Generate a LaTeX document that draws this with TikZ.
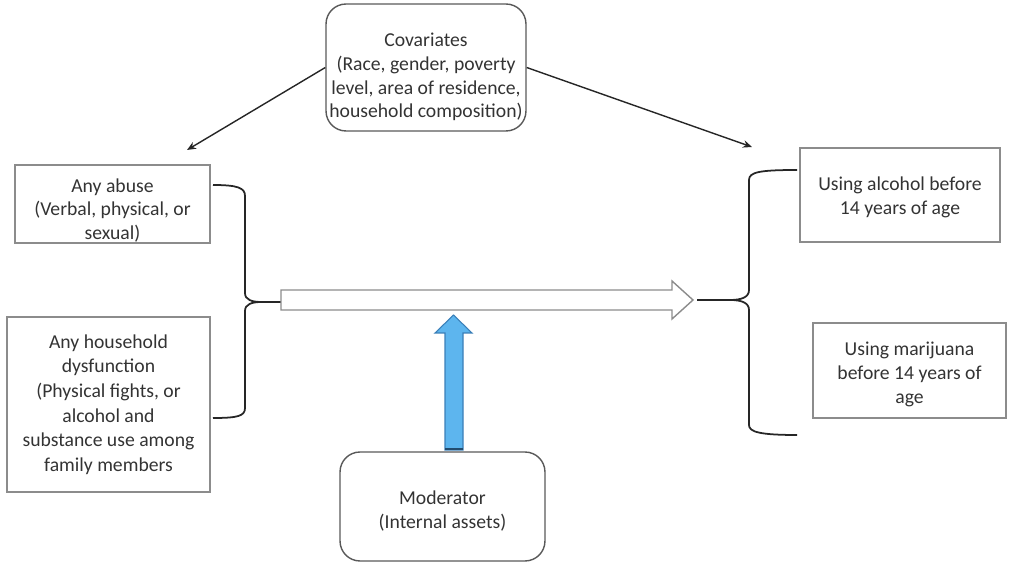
\documentclass[tikz,border=0pt]{standalone}
\usepackage{fontspec}
\setmainfont{Carlito}
\usetikzlibrary{arrows.meta}
\definecolor{boxline}{HTML}{8C8C8C}
\definecolor{roundline}{HTML}{595959}
\definecolor{textgray}{HTML}{333333}
\definecolor{linkline}{HTML}{262626}
\definecolor{modblue}{HTML}{5DB5EE}
\definecolor{modblueline}{HTML}{3A7FB8}
\newcommand{\dropby}[1]{\rule{0pt}{#1}}
\tikzset{
  box/.style={draw=boxline, line width=0.8pt, align=center, text=textgray,
              font=\fontsize{11.2}{13.5}\selectfont, inner sep=0pt},
  roundbox/.style={box, draw=roundline, rounded corners=0.4cm},
  link/.style={draw=linkline, line width=0.8pt, -{Stealth[length=1.8mm,width=1.5mm]}},
  bracket/.style={draw=linkline, line width=1pt},
}

\begin{document}
\begin{tikzpicture}[x=0.02cm, y=-0.02cm]
    \useasboundingbox (0,0) rectangle (1009,563);
    \node[roundbox, minimum width=4cm, minimum height=2.54cm] (cov) at (426,67.5)
      {\dropby{18.5pt}Covariates\\(Race, gender, poverty\\level, area of residence,\\household composition)};
    \node[box, minimum width=3.9cm, minimum height=1.56cm] (abuse) at (112.5,204)
      {\dropby{15pt}Any abuse\\(Verbal, physical, or\\sexual)};
    \node[box, minimum width=4.06cm, minimum height=3.5cm, font=\fontsize{11.2}{14}\selectfont] (dysf) at (108.5,404.5)
      {Any household\\dysfunction\\(Physical fights, or\\alcohol and\\substance use among\\family members};
    \node[box, minimum width=4.0cm, minimum height=1.88cm] (alc) at (900,195)
      {\dropby{10.5pt}Using alcohol before\\14 years of age};
    \node[box, minimum width=3.86cm, minimum height=1.9cm] (mari) at (909.5,370.5)
      {\dropby{12pt}Using marijuana\\before 14 years of\\age};
    \node[roundbox, minimum width=4.1cm, minimum height=2.18cm] (mod) at (442.5,506.5)
      {\dropby{13pt}Moderator\\(Internal assets)};
    \coordinate (covL) at (187,150);
    \coordinate (covR) at (752,147);
    \coordinate (ltip) at (283,302);
    \coordinate (rtip) at (697,300);
    \draw[link] (cov.west) -- (covL);
    \draw[link] (cov.east) -- (covR);
    % left bracket
    \draw[bracket] (213,185) .. controls (238,185) and (245,188) .. (245,196) -- (245,293)
      .. controls (245,300) and (252,302) .. (262,302) -- (ltip);
    \draw[bracket] (262,302) .. controls (252,302) and (245,304) .. (245,311) -- (245,408)
      .. controls (245,416) and (238,418) .. (213,418);
    % right bracket
    \draw[bracket] (797,170) .. controls (760,170) and (749,172) .. (749,180) -- (749,290)
      .. controls (749,297) and (742,300) .. (730,300) -- (rtip);
    \draw[bracket] (730,300) .. controls (742,300) and (749,303) .. (749,310) -- (749,425)
      .. controls (749,432) and (760,435) .. (797,435);
    % hollow arrow
    \draw[boxline, line width=0.8pt, fill=white] (281,290) -- (672,290) -- (672,281) -- (693,300)
      -- (672,319) -- (672,310) -- (281,310) -- cycle;
    % blue arrow
    \draw[modblueline, line width=0.6pt, fill=modblue] (445,450) -- (445,333) -- (435,333)
      -- (453.5,315) -- (472,333) -- (463,333) -- (463,450) -- cycle;
    \draw[modblueline!60!black, line width=1.2pt] (445,449) -- (463,449);
  \end{tikzpicture}
\end{document}
